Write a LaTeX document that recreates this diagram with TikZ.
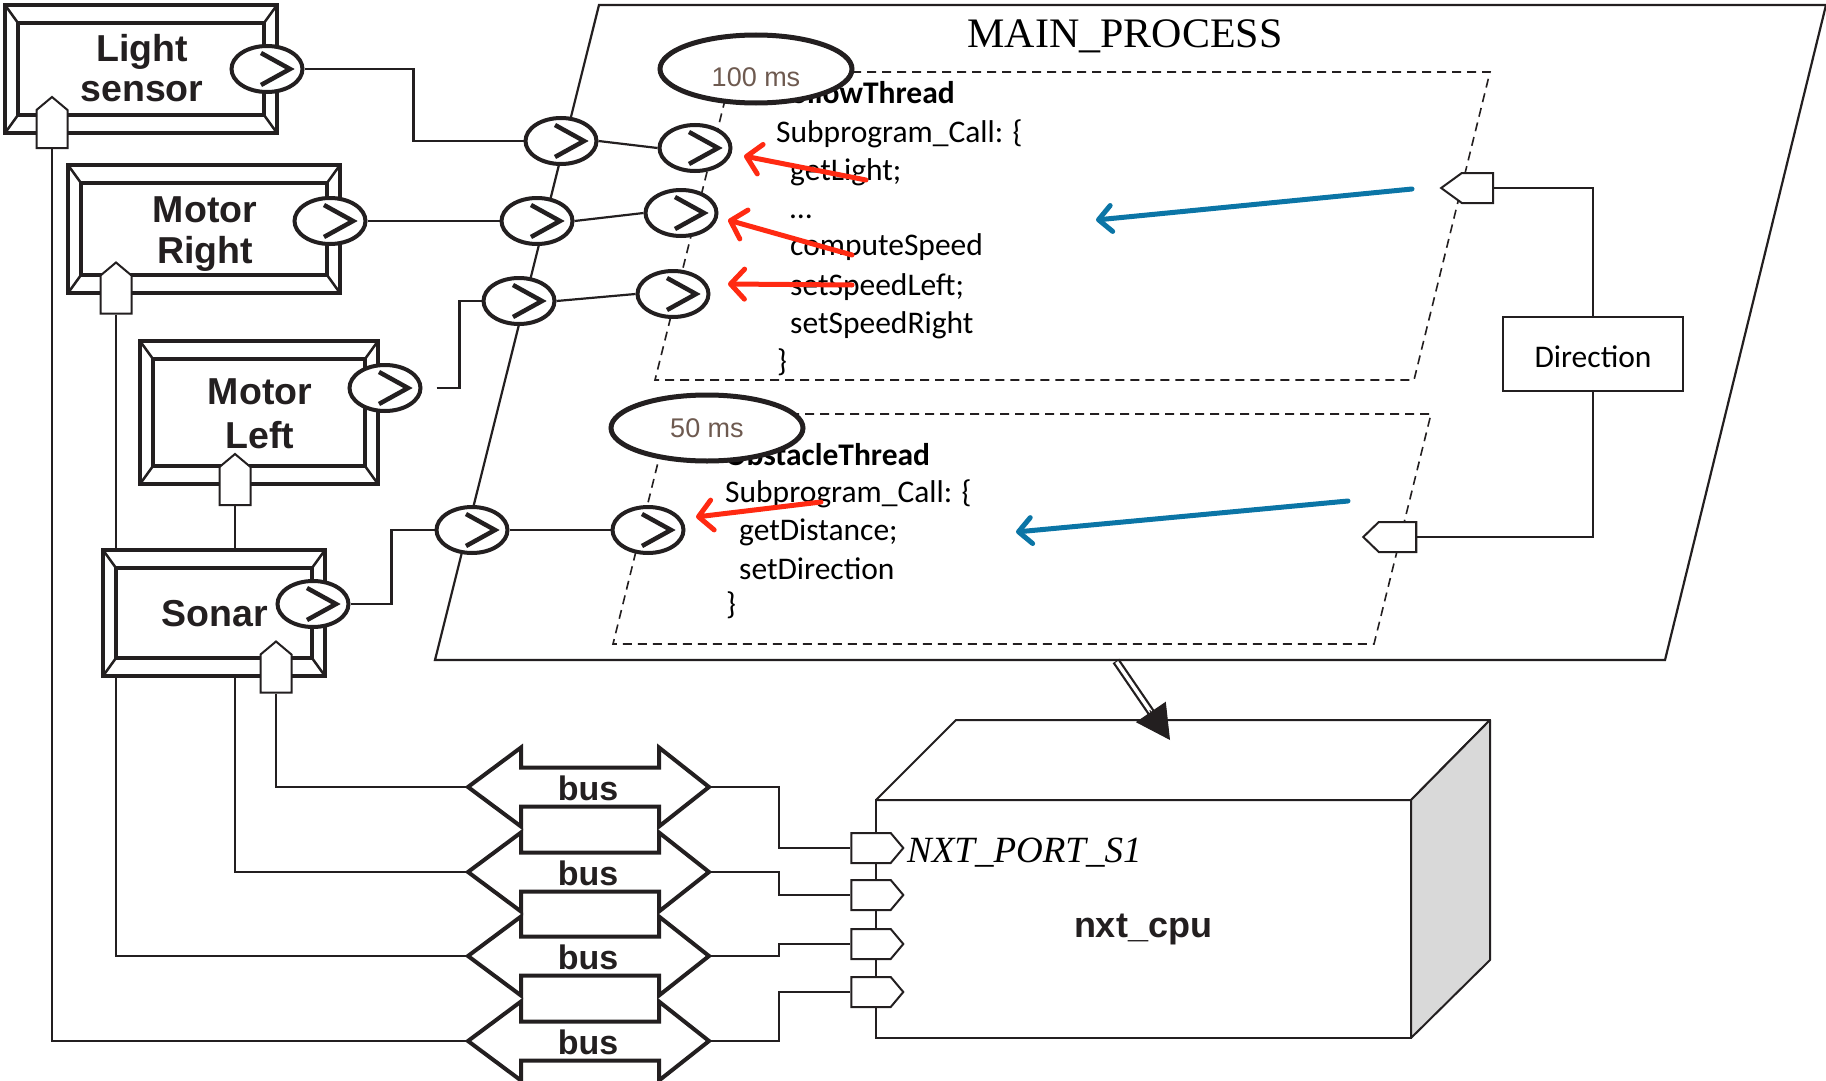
\documentclass[tikz,border=0pt]{standalone}
\usepackage{fontspec}
\setmainfont{Liberation Sans}
\newfontfamily\calfont{Carlito}
\newfontfamily\serifont{Liberation Serif}
\usetikzlibrary{shapes.geometric,shapes.symbols,arrows.meta,calc}
\definecolor{ink}{HTML}{231F20}
\definecolor{redarr}{HTML}{FF2A12}
\definecolor{bluearr}{HTML}{0B75A6}
\definecolor{msbrown}{HTML}{6E5A50}
\definecolor{sideface}{HTML}{D9D9D9}
\pgfdeclarelayer{wires}
\pgfsetlayers{wires,main}

% inner bevel frame of a component box
\newcommand{\bevelframe}[1]{%
  \draw[bevelin] ([shift={(13pt,-18pt)}]#1.north west) rectangle ([shift={(-13pt,18pt)}]#1.south east);
  \draw[beveldiag] (#1.north west) -- ++(13pt,-18pt);
  \draw[beveldiag] (#1.north east) -- ++(-13pt,-18pt);
  \draw[beveldiag] (#1.south west) -- ++(13pt,18pt);
  \draw[beveldiag] (#1.south east) -- ++(-13pt,18pt);}
% double-headed bus outline around a bus node
\newcommand{\busoutline}[1]{%
  \draw[busline] (#1.west) -- ++(53pt,39.5pt) -- ++(0pt,-20pt) -- ++(138pt,0pt) -- ++(0pt,20pt)
    -- (#1.east) -- ++(-50pt,-39.5pt) -- ++(0pt,20pt) -- ++(-138pt,0pt) -- ++(0pt,-20pt) -- cycle;}

\begin{document}
\begin{tikzpicture}[x=1pt,y=-1pt,
  wire/.style={ink, line width=2.2pt},
  bevel/.style={rectangle, draw=ink, fill=white, line width=4pt, inner sep=0pt, outer sep=0pt},
  bevelin/.style={ink, line width=3.5pt},
  beveldiag/.style={ink, line width=2.5pt},
  boxlabel/.style={font=\bfseries\fontsize{37.5}{40}\selectfont, inner sep=0pt, anchor=base, text=ink},
  port/.style={ellipse, draw=ink, fill=white, line width=4pt, minimum width=71pt, minimum height=46pt, inner sep=0pt,
    path picture={\draw[ink, line width=4.5pt, miter limit=10]
      ([shift={(-6pt,16pt)}]path picture bounding box.center) -- ++(29pt,-16pt) -- ++(-29pt,-16pt);}},
  inport/.style={signal, signal to=north, signal from=nowhere, signal pointer angle=100, draw=ink, fill=white,
    line width=2pt, minimum width=31pt, minimum height=38pt, inner sep=0pt},
  outport/.style={signal, signal to=east, signal from=nowhere, signal pointer angle=100, draw=ink, fill=white,
    line width=2pt, minimum width=52pt, minimum height=30pt, inner sep=0pt},
  dirport/.style={signal, signal to=west, signal from=nowhere, draw=ink, fill=white,
    line width=2pt, minimum height=30pt, inner sep=0pt},
  thread/.style={ink, line width=1.6pt, dash pattern=on 9pt off 6pt},
  code/.style={font=\calfont\fontsize{31.5}{38}\selectfont, inner sep=0pt, anchor=base west},
  codebold/.style={font=\calfont\bfseries\fontsize{31.5}{38}\selectfont, inner sep=0pt, anchor=base west},
  period/.style={ellipse, draw=ink, fill=white, line width=5pt, minimum width=192pt, minimum height=68pt, inner sep=0pt},
  periodtxt/.style={font=\fontsize{27}{30}\selectfont, text=msbrown, inner sep=0pt, anchor=base},
  redarrow/.style={redarr, line width=5pt, line cap=round, -{Straight Barb[length=14pt, width=30pt, round]}},
  bluearrow/.style={bluearr, line width=5pt, line cap=round, -{Straight Barb[length=13pt, width=26pt, round]}},
  busnode/.style={rectangle, minimum width=241pt, minimum height=79pt, inner sep=0pt, outer sep=0pt},
  busline/.style={ink, fill=white, line width=4pt, line join=miter},
  buslabel/.style={font=\bfseries\fontsize{34}{36}\selectfont, inner sep=0pt, anchor=base, text=ink},
]
\useasboundingbox (0,0) rectangle (1826,1081);

% ---------------- process frame and threads ----------------
\draw[ink, line width=2.2pt] (599,5) -- (1826,5) -- (1665,660) -- (435,660) -- cycle;
\node[font=\serifont\fontsize{42}{42}\selectfont, anchor=base, inner sep=0pt] (mp-title) at (1125,48) {MAIN\_PROCESS};

\draw[thread] (732,72) -- (1490,72) -- (1414,380) -- (655,380) -- cycle;
\draw[thread] (670,414) -- (1431,414) -- (1374,644) -- (613,644) -- cycle;

% follow thread code
\node[codebold] (ft-name) at (776,103) {FollowThread};
\node[code] (ft-l1) at (776,142) {Subprogram\_Call: \{};
\node[code] (ft-l2) at (790,180) {getLight;};
\node[code] (ft-l3) at (790,218) {…};
\node[code] (ft-l4) at (790,255) {computeSpeed};
\node[code] (ft-l5) at (790,295) {setSpeedLeft;};
\node[code] (ft-l6) at (790,333) {setSpeedRight};
\node[code] (ft-l7) at (777,371) {\}};

% obstacle thread code
\node[codebold] (ot-name) at (725,465) {ObstacleThread};
\node[code] (ot-l1) at (725,502) {Subprogram\_Call: \{};
\node[code] (ot-l2) at (739,540) {getDistance;};
\node[code] (ot-l3) at (739,579) {setDirection};
\node[code] (ot-l4) at (726,614) {\}};

% data flow arrows inside the threads
\coordinate (r1a) at (866,180); \coordinate (r1b) at (744,156);
\coordinate (r2a) at (852,255); \coordinate (r2b) at (728,220);
\coordinate (r3a) at (852,285); \coordinate (r3b) at (728,284);
\coordinate (r4a) at (821,502); \coordinate (r4b) at (696,517);
\draw[redarrow] (r1a) -- (r1b);
\draw[redarrow] (r2a) -- (r2b);
\draw[redarrow] (r3a) -- (r3b);
\draw[redarrow] (r4a) -- (r4b);
\coordinate (b1a) at (1412,189); \coordinate (b1b) at (1096,220);
\coordinate (b2a) at (1348,501); \coordinate (b2b) at (1016,532);
\draw[bluearrow] (b1a) -- (b1b);
\draw[bluearrow] (b2a) -- (b2b);

% thread periods
\node[period] (p100) at (756,69) {};
\node[periodtxt] (p100-t) at (756,87) {100 ms};
\node[period, minimum height=66pt] (p50) at (707,428) {};
\node[periodtxt] (p50-t) at (707,437) {50 ms};

% process and thread ports
\node[port] (po1) at (561,141) {};
\node[port] (pi1) at (695,148) {};
\node[port] (po2) at (537,221) {};
\node[port] (pi2) at (681,213) {};
\node[port] (po3) at (519,301) {};
\node[port] (pi3) at (673,294) {};
\node[port] (po4) at (472,530) {};
\node[port] (pi4) at (648,530) {};

% direction data
\node[rectangle, draw=ink, fill=white, line width=2.5pt, minimum width=180pt, minimum height=74pt, inner sep=0pt] (dir) at (1593,354) {};
\node[font=\calfont\fontsize{31.5}{36}\selectfont, anchor=base, inner sep=0pt] (dir-t) at (1593,367) {Direction};
\node[dirport, minimum width=52pt, signal pointer angle=72] (dport1) at (1477.5,188) {};
\node[dirport, minimum width=53pt, signal pointer angle=88] (dport2) at (1397.5,537) {};

% ---------------- devices ----------------
\node[bevel, minimum width=272pt, minimum height=128pt] (ls) at (141,69) {};
\bevelframe{ls}
\node[boxlabel] (ls-t1) at (142,62) {Light};
\node[boxlabel] (ls-t2) at (142,102) {sensor};

\node[bevel, minimum width=272pt, minimum height=128pt] (mr) at (204,229) {};
\bevelframe{mr}
\node[boxlabel] (mr-t1) at (205,222) {Motor};
\node[boxlabel] (mr-t2) at (205,263) {Right};

\node[bevel, minimum width=238pt, minimum height=143pt] (ml) at (259,412.5) {};
\bevelframe{ml}
\node[boxlabel] (ml-t1) at (260,404) {Motor};
\node[boxlabel] (ml-t2) at (260,448) {Left};

\node[bevel, minimum width=222pt, minimum height=126pt] (so) at (214,613) {};
\bevelframe{so}
\node[boxlabel] (so-t1) at (215,626) {Sonar};

\node[port] (ls-out) at (267,69) {};
\node[port] (mr-out) at (330,221) {};
\node[port] (ml-out) at (385,388) {};
\node[port] (so-out) at (313,604) {};

\node[inport] (ls-in) at (52,129) {};
\node[inport] (mr-in) at (116,294.5) {};
\node[inport] (ml-in) at (235,486) {};
\node[inport] (so-in) at (276,673.5) {};

% ---------------- buses ----------------
\foreach \i/\y in {1/787,2/872,3/956,4/1041}{
  \node[busnode] (bus\i) at (588.5,\y) {};
  \busoutline{bus\i}
  \node[buslabel] (bus\i-t) at (588,\y+13) {bus};
}

% ---------------- processor ----------------
\node[rectangle, draw=ink, fill=white, line width=2pt, outer sep=0pt, minimum width=535pt, minimum height=238pt,
  inner sep=0pt] (cpu) at (1143.5,919) {};
\draw[ink, fill=white, line width=2pt, line join=round] (cpu.north west) -- ++(80pt,80pt) -- ([shift={(79pt,80pt)}]cpu.north east) -- (cpu.north east) -- cycle;
\draw[ink, fill=sideface, line width=2pt, line join=round] (cpu.north east) -- ++(79pt,80pt) -- ([shift={(79pt,78pt)}]cpu.south east) -- (cpu.south east) -- cycle;
\node[font=\bfseries\fontsize{36}{38}\selectfont, anchor=base, inner sep=0pt, text=ink] (cpu-t) at (1143,937) {nxt\_cpu};

\node[outport] (cp1) at (871,848) {};
\node[outport] (cp2) at (871,895) {};
\node[outport] (cp3) at (871,944) {};
\node[outport] (cp4) at (871,992) {};
\node[font=\serifont\itshape\fontsize{37}{38}\selectfont, anchor=base west, inner sep=0pt] (cp1-t) at (907,862) {NXT\_PORT\_S1};

% binding of the process to the processor
\coordinate (dep-a) at (1116,661);
\coordinate (dep-b) at (1170,740);
\draw[ink, line width=8pt, shorten >=30pt] (dep-a) -- (dep-b);
\draw[white, line width=3.5pt, shorten >=29pt, shorten <=1.2pt] (dep-a) -- (dep-b);
\draw[ink, line width=1pt, -{Triangle[length=34pt, width=36pt]}] ($(dep-b)!36pt!(dep-a)$) -- (dep-b);

% ---------------- connections ----------------
\begin{pgfonlayer}{wires}
\draw[wire] (ls-out.east) -| ([xshift=-110pt]po1.west) -- (po1.west);
\draw[wire] (po1.east) -- (pi1.west);
\draw[wire] (mr-out.east) -- (po2.west);
\draw[wire] (po2.east) -- (pi2.west);
\draw[wire, shorten <=14pt] (ml-out.east) -| ([xshift=-22pt]po3.west) -- (po3.west);
\draw[wire] (po3.east) -- (pi3.west);
\draw[wire] (so-out.east) -| ([xshift=-43pt]po4.west) -- (po4.west);
\draw[wire] (po4.east) -- (pi4.west);

\draw[wire] (ls-in.south) |- (bus4.west);
\draw[wire] (mr-in.south) |- (bus3.west);
\draw[wire] (ml-in.south) |- (bus2.west);
\draw[wire] (so-in.south) |- (bus1.west);

\draw[wire] (bus1.east) -| ([xshift=-71pt]cp1.west) -- (cp1.west);
\draw[wire] (bus2.east) -| ([xshift=-71pt]cp2.west) -- (cp2.west);
\draw[wire] (bus3.east) -| ([xshift=-71pt]cp3.west) -- (cp3.west);
\draw[wire] (bus4.east) -| ([xshift=-71pt]cp4.west) -- (cp4.west);

\draw[wire] (dport1.east) -| (dir.north);
\draw[wire] (dir.south) |- (dport2.east);
\end{pgfonlayer}
\end{tikzpicture}
\end{document}
